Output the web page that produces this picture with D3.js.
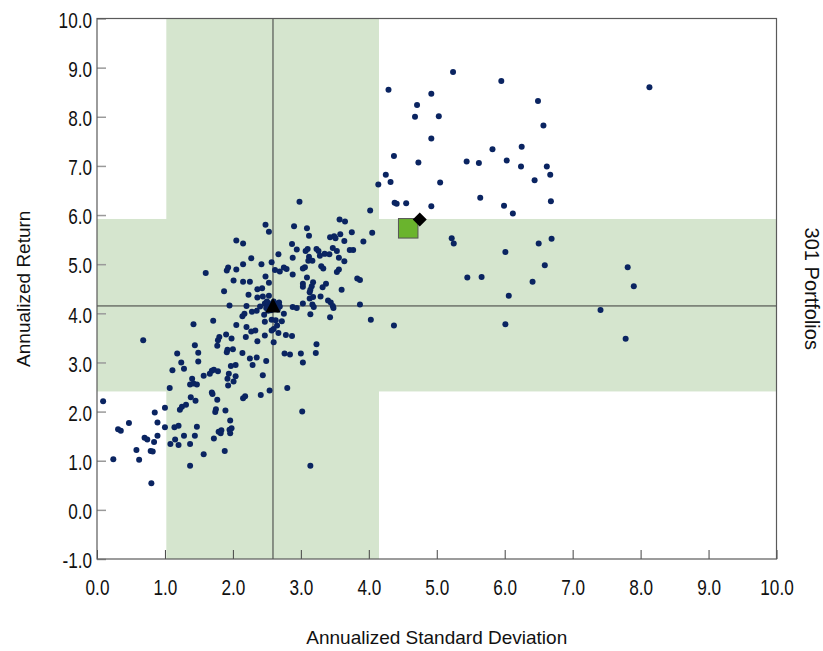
<!DOCTYPE html>
<html><head><meta charset="utf-8">
<script src="https://cdn.jsdelivr.net/npm/d3@7"></script>
<style>body{margin:0;background:#fff}</style>
</head><body>
<svg id="chart" width="823" height="651"></svg>
<script>
// ---- data ----
const stdDev = [
 0.68,1.18,1.24,1.11,1.28,1.07,0.09,0.85,1.00,1.22,1.25,0.47,0.89,0.31,1.00,1.14,1.20,
 0.24,0.35,0.58,0.62,0.70,0.74,0.79,0.82,0.80,0.84,0.89,1.08,1.15,1.20,1.31,1.28,1.37,
 1.37,1.38,1.44,1.45,1.47,1.37,1.42,1.47,1.57,1.72,1.69,1.70,1.74,1.75,1.77,1.79,1.82,
 1.83,1.88,1.89,1.93,1.96,1.95,1.96,1.98,2.01,2.15,2.18,2.41,2.54,2.80,3.02,3.14,
 1.95,2.20,2.28,2.35,2.40,2.47,2.49,2.52,2.55,2.14,2.17,1.42,1.71,2.05,2.20,2.27,2.33,
 2.47,2.46,1.80,1.78,1.90,1.98,2.19,2.36,2.47,1.44,1.77,1.92,1.91,2.00,2.14,1.49,2.25,
 2.35,2.49,1.49,2.29,1.97,2.04,1.69,1.72,1.66,1.78,1.94,1.57,2.04,2.44,1.92,1.40,
 2.75,3.14,3.43,4.03,2.57,2.63,2.72,2.65,2.60,2.57,2.67,2.78,2.87,2.60,3.23,3.22,2.76,2.84,3.00,3.03,
 2.48,2.53,2.05,2.15,2.27,2.57,2.15,2.42,1.93,1.91,2.05,1.60,2.62,2.48,2.01,2.15,2.25,2.53,1.87,2.36,2.43,2.23,2.36,2.44,2.53,
 4.14,2.98,4.02,3.57,3.65,2.90,3.09,3.75,4.05,3.12,3.43,3.49,3.51,3.58,3.64,3.92,2.87,2.94,
 3.07,3.10,3.23,3.26,3.47,3.53,3.72,3.77,2.67,3.35,3.42,3.28,3.12,3.11,3.17,2.88,3.56,3.64,
 3.06,3.03,3.30,3.33,3.56,3.53,2.69,2.75,2.79,2.88,3.09,3.83,3.87,3.03,3.03,3.18,3.16,3.14,
 3.13,3.37,3.32,3.60,3.29,3.13,3.18,3.40,3.44,3.03,3.17,3.19,3.47,3.48,3.87,2.88,2.94,2.62,2.69,
 5.24,5.95,8.13,4.29,4.92,4.71,6.49,4.68,5.03,6.57,4.92,4.37,5.82,6.25,4.73,
 5.44,5.62,6.03,6.24,6.62,6.67,4.25,4.32,5.05,6.44,5.64,4.38,4.41,4.55,4.92,
 5.99,6.12,6.68,5.22,5.25,6.01,6.50,6.69,6.59,7.81,5.45,5.66,6.41,7.90,6.06,7.41,4.37,6.01,7.78,
 2.58,2.62,2.56,2.66,2.52,2.60,2.50,2.68
];
const annReturn = [
 3.45,3.18,3.00,2.84,2.87,2.48,2.21,1.98,2.08,2.04,2.10,1.77,1.78,1.64,1.68,1.68,1.71,
 1.03,1.61,1.22,1.02,1.47,1.43,1.20,1.19,0.54,1.38,1.51,1.34,1.43,1.32,2.14,1.51,0.90,
 1.34,2.29,1.51,2.22,1.69,2.55,2.57,2.55,1.13,1.45,2.39,2.36,1.99,2.05,2.24,1.59,1.56,
 1.62,1.20,2.02,2.53,1.82,1.63,1.56,1.66,2.61,2.27,2.31,2.34,2.43,2.48,2.00,0.90,
 4.16,4.15,4.03,4.05,4.14,4.20,4.11,4.21,4.13,3.94,3.99,3.78,3.85,3.76,3.72,3.63,3.65,
 3.83,3.97,3.52,3.45,3.57,3.49,3.52,3.43,3.55,3.35,3.34,3.26,3.21,3.27,3.19,3.20,3.08,
 3.10,3.03,3.02,2.95,2.93,2.95,2.83,2.85,2.77,2.82,2.77,2.73,2.72,2.74,2.67,2.67,
 3.99,3.98,3.92,3.87,3.87,3.86,3.84,3.75,3.68,3.65,3.60,3.56,3.54,3.41,3.37,3.19,3.18,3.16,3.18,3.00,
 5.80,5.66,5.48,5.42,5.12,5.04,5.00,5.00,4.93,4.87,4.89,4.82,4.88,4.75,4.67,4.64,4.64,4.62,4.45,4.49,4.51,4.38,4.32,4.34,4.36,
 6.62,6.27,6.09,5.91,5.87,5.77,5.73,5.65,5.64,5.58,5.55,5.57,5.53,5.61,5.47,5.46,5.41,5.30,
 5.27,5.31,5.31,5.27,5.33,5.27,5.29,5.29,5.20,5.21,5.20,5.17,5.15,5.07,5.07,5.13,5.13,5.06,
 4.94,4.91,4.96,4.91,4.89,4.84,4.85,4.93,4.90,4.79,4.73,4.71,4.68,4.60,4.54,4.63,4.55,4.48,
 4.43,4.60,4.53,4.48,4.34,4.30,4.33,4.26,4.22,4.20,4.18,4.13,4.15,4.11,4.18,4.13,4.11,4.20,4.14,
 8.91,8.73,8.60,8.55,8.47,8.24,8.32,8.00,8.01,7.82,7.56,7.20,7.34,7.39,7.07,
 7.09,7.06,7.11,6.99,6.99,6.82,6.82,6.67,6.66,6.71,6.35,6.25,6.23,6.24,6.18,
 6.19,6.03,6.28,5.53,5.42,5.25,5.42,5.52,4.98,4.94,4.73,4.74,4.64,4.55,4.36,4.07,3.75,3.78,3.48,
 4.16,4.10,4.06,4.08,4.05,4.24,4.24,4.22
];
const xTicks = [0,1,2,3,4,5,6,7,8,9,10];
const yTicks = [-1,0,1,2,3,4,5,6,7,8,9,10];
const meanPoint = [2.59, 4.15];        // triangle / crosshair
const stdBand = [1.02, 4.15];          // mean ± 1 sd of std dev
const retBand = [2.41, 5.92];          // mean ± 1 sd of return
const squarePoint = [4.58, 5.73];      // green square
const diamondPoint = [4.75, 5.91];     // black diamond
const xTitle = "Annualized Standard Deviation";
const yTitle = "Annualized Return";
const rightTitle = "301 Portfolios";

// ---- layout ----
const svg = d3.select("#chart");
const L = 97, R = 776.5, T = 18.5, B = 559;
const x = d3.scaleLinear().domain([0,10]).range([L,R]);
const y = d3.scaleLinear().domain([-1,10]).range([B,T]);
const font = "'Liberation Sans', Arial, sans-serif";
const band = "#d5e5ce";

// bands
svg.append("rect").attr("x", x(stdBand[0])).attr("y", T)
  .attr("width", x(stdBand[1]) - x(stdBand[0])).attr("height", B - T).attr("fill", band);
svg.append("rect").attr("x", L).attr("y", y(retBand[1]))
  .attr("width", R - L).attr("height", y(retBand[0]) - y(retBand[1])).attr("fill", band);

// crosshair
svg.append("line").attr("x1", x(meanPoint[0])).attr("x2", x(meanPoint[0]))
  .attr("y1", T).attr("y2", B).attr("stroke", "#3a3a3a").attr("stroke-width", 1);
svg.append("line").attr("x1", L).attr("x2", R)
  .attr("y1", y(meanPoint[1])).attr("y2", y(meanPoint[1])).attr("stroke", "#3a3a3a").attr("stroke-width", 1);

// axes
const fmt = d => d.toFixed(1);
const gx = svg.append("g").attr("transform", `translate(0,${B})`)
  .call(d3.axisBottom(x).tickValues(xTicks).tickFormat(fmt).tickSize(-9).tickPadding(20.5));
const gy = svg.append("g").attr("transform", `translate(${L},0)`)
  .call(d3.axisLeft(y).tickValues(yTicks).tickFormat(fmt).tickSize(-9).tickPadding(5));
gx.select(".domain").remove(); gy.select(".domain").remove();
gx.selectAll(".tick line").attr("stroke", "#444");
gy.selectAll(".tick line").attr("stroke", "#9a9a9a").attr("stroke-width", 1.5);
[gx, gy].forEach(g => g.selectAll(".tick text")
  .attr("font-family", font).attr("font-size", 22).attr("fill", "#111"));
gy.selectAll(".tick text").attr("dy", "0.40em");
[gx, gy].forEach(g => g.selectAll(".tick text").each(function(){
  const w = this.getComputedTextLength();
  d3.select(this).attr("textLength", w * 0.78).attr("lengthAdjust", "spacingAndGlyphs");
}));

// points
const pts = stdDev.map((s, i) => [s, annReturn[i]]);
svg.append("g").selectAll("circle").data(pts).join("circle")
  .attr("cx", d => x(d[0])).attr("cy", d => y(d[1])).attr("r", 3).attr("fill", "#0a2461");

// triangle
const tx = x(meanPoint[0]), ty = y(meanPoint[1]);
svg.append("path").attr("d", `M${tx},${ty-8}L${tx+7.5},${ty+6.5}L${tx-7.5},${ty+6.5}Z`).attr("fill", "#000");
// square
const sq = 19.5;
svg.append("rect").attr("x", x(squarePoint[0]) - sq/2).attr("y", y(squarePoint[1]) - sq/2)
  .attr("width", sq).attr("height", sq).attr("fill", "#6ab42d").attr("stroke", "#555").attr("stroke-width", 1);
// diamond
const dx = x(diamondPoint[0]), dy = y(diamondPoint[1]);
svg.append("path").attr("d", `M${dx},${dy-7}L${dx+7},${dy}L${dx},${dy+7}L${dx-7},${dy}Z`).attr("fill", "#000");

// border
svg.append("rect").attr("x", L).attr("y", T).attr("width", R - L).attr("height", B - T)
  .attr("fill", "none").attr("stroke", "#5a5a5a").attr("stroke-width", 1.2);

// titles
svg.append("text").attr("x", (L + R) / 2).attr("y", 644).attr("text-anchor", "middle")
  .attr("font-family", font).attr("font-size", 19).attr("fill", "#111").text(xTitle);
svg.append("text").attr("transform", `translate(30,${(T + B) / 2}) rotate(-90)`).attr("text-anchor", "middle")
  .attr("font-family", font).attr("font-size", 19).attr("fill", "#111").text(yTitle);
svg.append("text").attr("transform", `translate(805,${(T + B) / 2}) rotate(90)`).attr("text-anchor", "middle")
  .attr("font-family", font).attr("font-size", 20).attr("fill", "#111").text(rightTitle);
</script>
</body></html>
